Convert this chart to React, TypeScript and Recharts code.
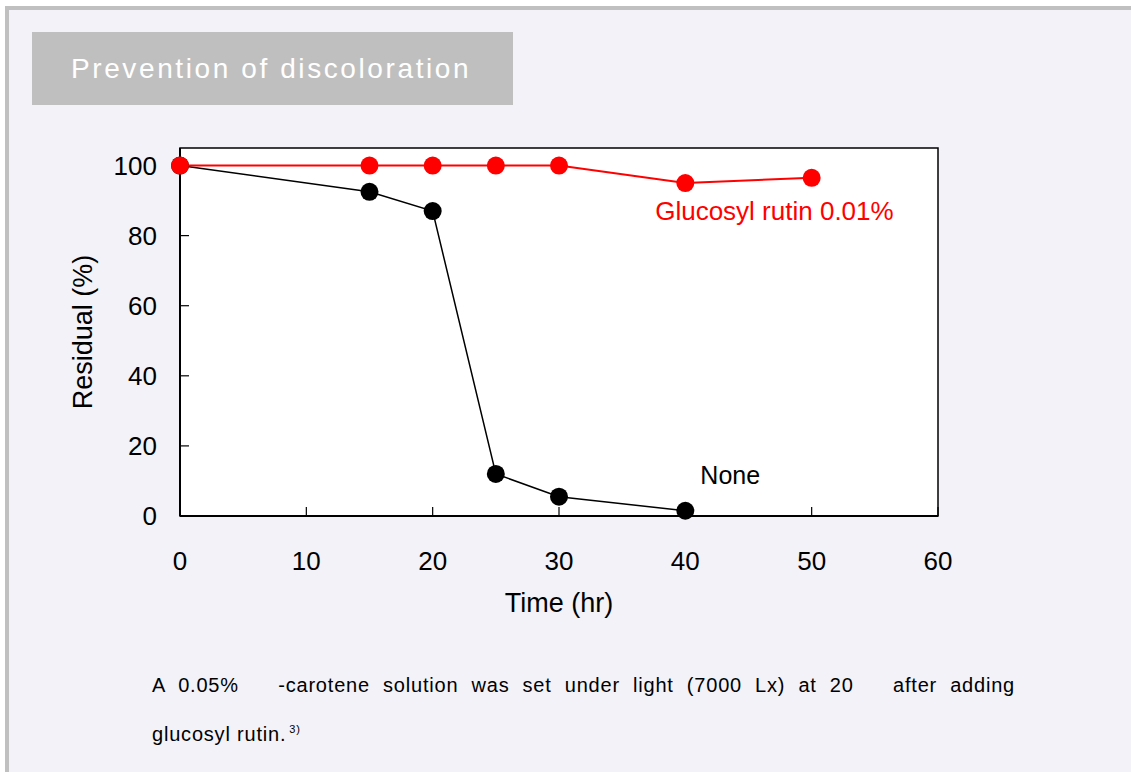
import { CartesianGrid, LabelList, Line, LineChart, ReferenceArea, XAxis, YAxis } from "recharts";

// residual (%) of beta-carotene vs time
const timeHours = [0, 15, 20, 25, 30, 40, 50];
const noneValues: (number | null)[] = [100, 92.5, 87, 12, 5.5, 1.5, null];
const glucosylValues = [100, 100, 100, 100, 100, 95, 96.5];

const xTicks = [0, 10, 20, 30, 40, 50, 60];
const yTicks = [0, 20, 40, 60, 80, 100];

const chartData = timeHours.map((t, i) => ({
  time: t,
  none: noneValues[i],
  glucosyl: glucosylValues[i],
}));

const FONT = '"Liberation Sans", Arial, sans-serif';
const AXIS_TICK = { fill: "#000", fontSize: 26, fontFamily: FONT };

function pointOf(props: any) {
  const vb = props.viewBox ?? {};
  return { x: vb.x ?? props.x, y: vb.y ?? props.y };
}

function GlucosylTag(props: any) {
  if (props.index !== glucosylValues.length - 1) return null;
  const { x, y } = pointOf(props);
  return (
    <text x={x + 82} y={y + 42} textAnchor="end" fill="#ff0000" fontSize={26} fontFamily={FONT}>
      Glucosyl rutin 0.01%
    </text>
  );
}

function NoneTag(props: any) {
  if (props.index !== 5) return null;
  const { x, y } = pointOf(props);
  return (
    <text x={x + 15} y={y - 27} fill="#000" fontSize={25} fontFamily={FONT}>
      None
    </text>
  );
}

function YTitle(props: any) {
  const vb = props.viewBox ?? { x: 120, y: 148, width: 60, height: 368 };
  const cx = vb.x + vb.width - 97;
  const cy = vb.y + vb.height / 2;
  return (
    <text
      x={cx}
      y={cy}
      transform={`rotate(-90 ${cx} ${cy})`}
      textAnchor="middle"
      dominantBaseline="central"
      fill="#000"
      fontSize={27}
      fontFamily={FONT}
    >
      Residual (%)
    </text>
  );
}

export default function App() {
  return (
    <div
      style={{
        position: "fixed",
        left: 0,
        top: 0,
        width: 1131,
        height: 772,
        background: "#fff",
        overflow: "hidden",
      }}
    >
      <div
        style={{
          position: "absolute",
          left: 5,
          top: 6,
          right: 0,
          bottom: 0,
          background: "#f2f2f8",
          borderTop: "4px solid #c0c0c0",
          borderLeft: "4px solid #c0c0c0",
        }}
      />
      <div
        style={{
          position: "absolute",
          left: 32,
          top: 32,
          width: 481,
          height: 73,
          background: "#bfbfbf",
          display: "flex",
          alignItems: "center",
          paddingLeft: 39,
          boxSizing: "border-box",
          color: "#fff",
          fontFamily: FONT,
          fontSize: 28,
          letterSpacing: 2.6,
        }}
      >
        Prevention of discoloration
      </div>

      <div style={{ position: "absolute", left: 0, top: 0 }}>
        <LineChart
          width={1000}
          height={640}
          data={chartData}
          margin={{ top: 148, left: 120, right: 62, bottom: 94 }}
        >
          <CartesianGrid horizontal={false} vertical={false} fill="#fff" fillOpacity={1} />
          <XAxis
            dataKey="time"
            type="number"
            domain={[0, 60]}
            ticks={xTicks}
            height={30}
            stroke="#000"
            axisLine={{ stroke: "#000", strokeWidth: 2 }}
            tickLine={{ stroke: "#000", strokeWidth: 1.2 }}
            tickSize={-9}
            tickMargin={45}
            tick={AXIS_TICK}
            label={{
              value: "Time (hr)",
              position: "bottom",
              offset: 47,
              fill: "#000",
              fontSize: 27,
              fontFamily: FONT,
            }}
          />
          <YAxis
            type="number"
            domain={[0, 105]}
            ticks={yTicks}
            width={60}
            stroke="#000"
            axisLine={{ stroke: "#000", strokeWidth: 2 }}
            tickLine={{ stroke: "#000", strokeWidth: 1.2 }}
            tickSize={-9}
            tickMargin={32}
            tick={AXIS_TICK}
            label={YTitle}
          />
          <ReferenceArea x1={0} x2={60} y1={0} y2={105} fill="none" stroke="#000" strokeWidth={1.5} />
          <Line
            dataKey="none"
            stroke="#000"
            strokeWidth={1.5}
            dot={{ r: 9, fill: "#000", stroke: "none" }}
            activeDot={false}
            connectNulls={false}
            isAnimationActive={false}
          >
            <LabelList dataKey="none" content={NoneTag} />
          </Line>
          <Line
            dataKey="glucosyl"
            stroke="#ff0000"
            strokeWidth={2}
            dot={{ r: 9, fill: "#ff0000", stroke: "none" }}
            activeDot={false}
            isAnimationActive={false}
          >
            <LabelList dataKey="glucosyl" content={GlucosylTag} />
          </Line>
        </LineChart>
      </div>

      <div
        style={{
          position: "absolute",
          left: 152,
          top: 661,
          width: 863,
          fontFamily: FONT,
          fontSize: 20,
          letterSpacing: 0.8,
          lineHeight: "49px",
          color: "#000",
        }}
      >
        <div style={{ textAlign: "justify", textAlignLast: "justify" }}>
          A 0.05%&nbsp;&nbsp; -carotene solution was set under light (7000 Lx) at 20&nbsp;&nbsp; after adding
        </div>
        <div>
          glucosyl rutin.<sup style={{ fontSize: 11, marginLeft: 3, verticalAlign: 8, lineHeight: 0 }}>3)</sup>
        </div>
      </div>
    </div>
  );
}
